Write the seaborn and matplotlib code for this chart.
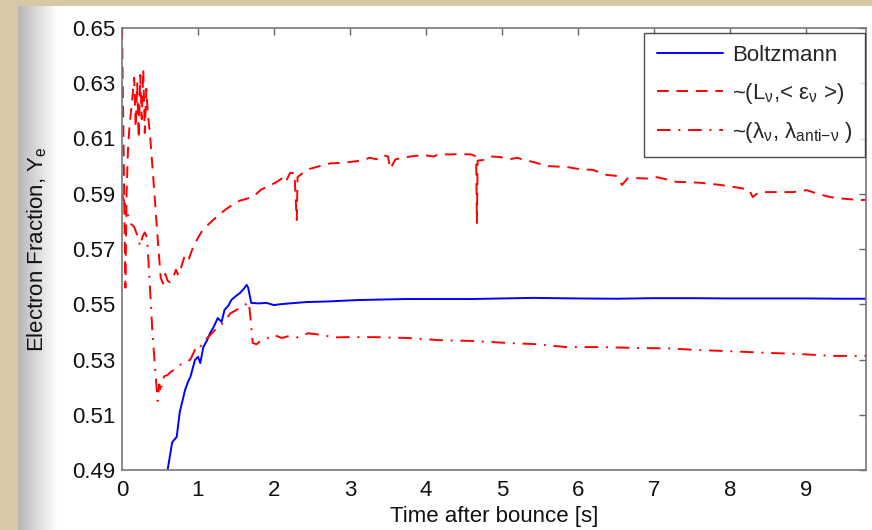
import numpy as np
import pandas as pd
import seaborn as sns
import matplotlib.pyplot as plt
from matplotlib.patches import Rectangle
from matplotlib.ticker import FormatStrFormatter

# Boltzmann transport
t_boltz = [0.60, 0.66, 0.72, 0.76, 0.80, 0.83, 0.87, 0.90, 0.96, 1.00, 1.03, 1.07,
           1.12, 1.16, 1.21, 1.26, 1.31, 1.35, 1.40, 1.44, 1.50, 1.55, 1.60, 1.64,
           1.66, 1.70, 1.80, 1.90, 2.00, 2.08, 2.20, 2.43, 2.70, 3.09, 3.40, 3.75,
           4.20, 4.62, 5.00, 5.41, 6.00, 6.50, 7.00, 7.50, 8.00, 8.50, 9.00, 9.50, 9.80]
ye_boltz = [0.490, 0.500, 0.502, 0.511, 0.5155, 0.519, 0.522, 0.5237, 0.5298, 0.531,
            0.5287, 0.5345, 0.537, 0.5396, 0.542, 0.545, 0.5436, 0.548, 0.5495, 0.5516,
            0.553, 0.554, 0.5555, 0.557, 0.556, 0.5505, 0.5503, 0.5505, 0.5497, 0.550,
            0.5503, 0.5508, 0.551, 0.5515, 0.5517, 0.5519, 0.5519, 0.5519, 0.5521, 0.5523,
            0.5521, 0.552, 0.5522, 0.5522, 0.5521, 0.5521, 0.5521, 0.552, 0.552]

# ~(L_nu, <eps_nu>)
t_lum = [0.0, 0.015, 0.03, 0.045, 0.06, 0.08, 0.10, 0.12, 0.14, 0.16, 0.18, 0.20,
         0.22, 0.24, 0.26, 0.28, 0.30, 0.32, 0.34, 0.37, 0.40, 0.44, 0.48, 0.51,
         0.54, 0.57, 0.60, 0.63, 0.67, 0.71, 0.74, 0.78, 0.83, 0.88, 0.94, 1.00,
         1.04, 1.10, 1.18, 1.26, 1.35, 1.45, 1.55, 1.62, 1.73, 1.83, 1.95, 2.05,
         2.10, 2.15, 2.21, 2.27, 2.28, 2.30, 2.31, 2.40, 2.47, 2.60, 2.74, 2.90,
         3.00, 3.15, 3.26, 3.35, 3.43, 3.50, 3.53, 3.60, 3.70, 3.80, 3.96, 4.10,
         4.18, 4.30, 4.45, 4.60, 4.66, 4.67, 4.68, 4.75, 4.85, 4.97, 5.10, 5.20,
         5.30, 5.41, 5.60, 5.85, 6.00, 6.20, 6.38, 6.50, 6.58, 6.65, 6.73, 6.90,
         7.04, 7.30, 7.60, 7.87, 8.13, 8.25, 8.30, 8.38, 8.49, 8.83, 9.01, 9.15,
         9.32, 9.50, 9.71, 9.80]
ye_lum = [0.650, 0.620, 0.585, 0.556, 0.590, 0.607, 0.615, 0.620, 0.626, 0.632, 0.614, 0.630,
          0.610, 0.633, 0.617, 0.635, 0.612, 0.628, 0.619, 0.611, 0.600, 0.585, 0.570, 0.5595,
          0.5575, 0.561, 0.5585, 0.558, 0.5595, 0.5625, 0.5605, 0.5635, 0.568, 0.5665, 0.571, 0.574,
          0.576, 0.578, 0.580, 0.582, 0.584, 0.586, 0.5875, 0.588, 0.589, 0.5915, 0.593, 0.5945,
          0.5955, 0.594, 0.5975, 0.5975, 0.591, 0.5805, 0.596, 0.598, 0.599, 0.600, 0.601, 0.6012,
          0.6015, 0.602, 0.603, 0.6025, 0.604, 0.6035, 0.599, 0.6025, 0.603, 0.6035, 0.604, 0.6035,
          0.6044, 0.6042, 0.6044, 0.6042, 0.6035, 0.5794, 0.602, 0.6022, 0.6035, 0.6033, 0.6025, 0.603,
          0.6022, 0.6015, 0.600, 0.5997, 0.599, 0.5986, 0.5968, 0.5965, 0.5932, 0.5955, 0.5957, 0.5955,
          0.596, 0.5943, 0.594, 0.5932, 0.5921, 0.5915, 0.5888, 0.5905, 0.5906, 0.5906, 0.5913, 0.590,
          0.5888, 0.5882, 0.5877, 0.5878]

# ~(lambda_nu, lambda_anti-nu)
t_lam = [0.0, 0.04, 0.08, 0.12, 0.16, 0.20, 0.24, 0.27, 0.30, 0.33, 0.36, 0.40,
         0.44, 0.47, 0.49, 0.51, 0.53, 0.56, 0.60, 0.64, 0.70, 0.76, 0.83, 0.90,
         0.96, 1.00, 1.06, 1.13, 1.20, 1.26, 1.32, 1.38, 1.43, 1.50, 1.57, 1.63,
         1.67, 1.69, 1.72, 1.77, 1.83, 1.90, 2.00, 2.10, 2.20, 2.30, 2.45, 2.60,
         2.80, 2.96, 3.30, 3.75, 4.18, 4.62, 5.06, 5.41, 5.85, 6.30, 6.73, 7.20,
         7.60, 8.00, 8.49, 8.90, 9.36, 9.80]
ye_lam = [0.590, 0.586, 0.582, 0.579, 0.578, 0.575, 0.571, 0.5745, 0.576, 0.574, 0.560, 0.540,
          0.525, 0.515, 0.521, 0.518, 0.5225, 0.524, 0.5244, 0.5255, 0.5265, 0.528, 0.5287, 0.530,
          0.5335, 0.533, 0.536, 0.538, 0.540, 0.5418, 0.543, 0.545, 0.5468, 0.5478, 0.549, 0.550,
          0.5508, 0.545, 0.536, 0.5355, 0.537, 0.5375, 0.5389, 0.5378, 0.5385, 0.538, 0.5395, 0.539,
          0.538, 0.5381, 0.5381, 0.5378, 0.537, 0.5367, 0.536, 0.5356, 0.5345, 0.5345, 0.5342, 0.534,
          0.5334, 0.533, 0.5324, 0.532, 0.5313, 0.5313]

labels = ["Boltzmann",
          "~(L$_ν$,< ε$_ν$ >)",
          "~(λ$_ν$, λ$_{anti{-}ν}$ )"]
yticks = [0.49, 0.51, 0.53, 0.55, 0.57, 0.59, 0.61, 0.63, 0.65]
xticks = list(range(10))


def make_plot():
    sns.set_theme(style="white")
    plt.rcParams['font.family'] = ['Liberation Sans', 'DejaVu Sans']
    plt.rcParams['mathtext.fontset'] = 'custom'
    plt.rcParams['mathtext.rm'] = 'Liberation Sans'
    plt.rcParams['mathtext.it'] = 'Liberation Sans'
    plt.rcParams['mathtext.bf'] = 'Liberation Sans:bold'

    fig = plt.figure(figsize=(8.72, 5.30), dpi=100)
    fig.patch.set_facecolor('#d8c9a6')
    # white slide area with a soft grey shadow on the left
    fig.add_artist(Rectangle((18 / 872, 0), 1, 1 - 6 / 530, transform=fig.transFigure,
                             facecolor='white', edgecolor='none', zorder=-3))
    w = 40
    ramp = np.linspace(0.62, 1.0, w) ** 0.7
    grad = np.tile(ramp[None, :, None], (524, 1, 3))
    fig.figimage(grad, xo=18, yo=0, zorder=-2)

    ax = fig.add_axes([122 / 872, 1 - 470 / 530, 744 / 872, 442 / 530])
    ax.set_facecolor('white')

    df_b = pd.DataFrame({'t': t_boltz, 'ye': ye_boltz})
    df_l = pd.DataFrame({'t': t_lum, 'ye': ye_lum})
    df_m = pd.DataFrame({'t': t_lam, 'ye': ye_lam})

    sns.lineplot(data=df_b, x='t', y='ye', ax=ax, color='#0000ff', linewidth=1.4,
                 estimator=None, sort=False, label=labels[0])
    sns.lineplot(data=df_l, x='t', y='ye', ax=ax, color='#ff0000', linewidth=1.4,
                 linestyle=(0, (6, 4)), estimator=None, sort=False, label=labels[1])
    sns.lineplot(data=df_m, x='t', y='ye', ax=ax, color='#ff0000', linewidth=1.4,
                 linestyle=(0, (7, 4, 1, 4)), estimator=None, sort=False, label=labels[2])

    ax.set_xlim(0, 9.79)
    ax.set_ylim(0.49, 0.65)
    ax.set_xticks(xticks)
    ax.set_yticks(yticks)
    ax.yaxis.set_major_formatter(FormatStrFormatter('%.2f'))
    ax.tick_params(direction='in', length=5, width=1, color='#666666',
                   top=True, right=True, labelsize=16, labelcolor='#111111')
    ax.tick_params(axis='x', pad=7)
    ax.tick_params(axis='y', pad=5)
    for side in ax.spines:
        ax.spines[side].set_color('#777777')
        ax.spines[side].set_linewidth(1.2)

    ax.set_xlabel("Time after bounce [s]", fontsize=16, color='#111111', labelpad=4)
    ax.set_ylabel("Electron Fraction, Y$_e$", fontsize=16, color='#111111', labelpad=16)

    leg = ax.legend(loc='upper right', bbox_to_anchor=(0.9987, 0.989), borderaxespad=0,
                    fontsize=16, frameon=True, fancybox=False, handlelength=3.0,
                    handletextpad=0.4, labelspacing=0.65, borderpad=0.55)
    leg.get_frame().set_edgecolor('#222222')
    leg.get_frame().set_linewidth(1.0)

    fig.savefig("out.png", dpi=100, facecolor=fig.get_facecolor())


if __name__ == "__main__":
    make_plot()
